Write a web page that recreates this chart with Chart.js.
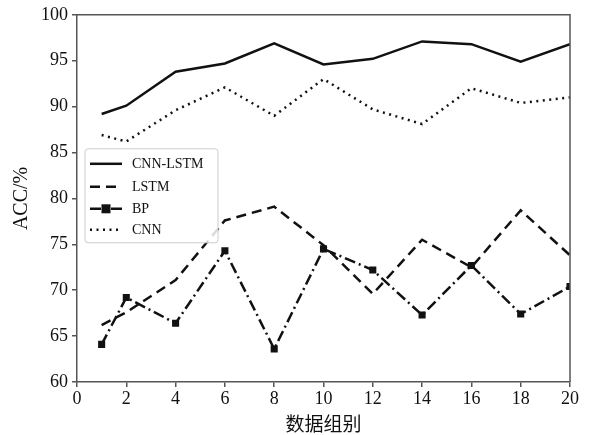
<!DOCTYPE html>
<html>
<head>
<meta charset="utf-8">
<script src="https://cdn.jsdelivr.net/npm/chart.js@4"></script>
<style>
  html, body { margin: 0; padding: 0; background: #fff; }
  #wrap { width: 589px; height: 435px; }
</style>
</head>
<body>
<div id="wrap"><canvas id="acc-chart" width="589" height="435"></canvas></div>
<script>
// ---- data ----------------------------------------------------------------
const GROUPS = [1, 2, 4, 6, 8, 10, 12, 14, 16, 18, 20];
const CNN_LSTM = [89.2, 90.1, 93.8, 94.7, 96.9, 94.6, 95.2, 97.1, 96.8, 94.9, 96.8];
const LSTM = [66.2, 67.6, 71.1, 77.6, 79.1, 74.9, 69.6, 75.5, 72.5, 78.7, 73.8];
const BP = [64.1, 69.2, 66.4, 74.3, 63.6, 74.5, 72.2, 67.3, 72.7, 67.4, 70.4];
const CNN = [86.9, 86.2, 89.6, 92.1, 89.0, 93.0, 89.7, 88.1, 92.0, 90.4, 91.0];
const X_TICKS = [0, 2, 4, 6, 8, 10, 12, 14, 16, 18, 20];
const Y_TICKS = [60, 65, 70, 75, 80, 85, 90, 95, 100];

const INK = '#111';
const AXIS = '#555';
const SERIF = "'Liberation Serif', 'DejaVu Serif', serif";

const toPoints = vals => vals.map((v, i) => ({ x: GROUPS[i], y: v }));

const SERIES = [
    { label: 'CNN-LSTM', data: CNN_LSTM, dash: [] },
    { label: 'LSTM', data: LSTM, dash: [10, 6] },
    { label: 'BP', data: BP, dash: [11, 4, 2, 4], marker: true },
    { label: 'CNN', data: CNN, dash: [2, 4.5] },
];

// frame (top/right edges) + in-plot legend
const framePlugin = {
    id: 'frame',
    afterDraw(chart) {
        const { ctx, chartArea: a } = chart;
        ctx.save();
        ctx.strokeStyle = AXIS;
        ctx.lineWidth = 1.5;
        ctx.beginPath();
        ctx.moveTo(a.left, a.top);
        ctx.lineTo(a.right, a.top);
        ctx.lineTo(a.right, a.bottom);
        ctx.stroke();

        // legend box
        const bx = a.left + 8, by = a.top + 134, bw = 133, bh = 94;
        ctx.fillStyle = 'rgba(255,255,255,0.85)';
        ctx.strokeStyle = '#ccc';
        ctx.lineWidth = 1;
        ctx.beginPath();
        ctx.roundRect(bx, by, bw, bh, 3);
        ctx.fill();
        ctx.stroke();

        const rows = [15, 38, 60, 81];
        ctx.font = '14px ' + SERIF;
        ctx.textBaseline = 'middle';
        SERIES.forEach((s, i) => {
            const y = by + rows[i];
            ctx.strokeStyle = INK;
            ctx.lineWidth = 2.5;
            ctx.setLineDash(s.dash);
            ctx.beginPath();
            ctx.moveTo(bx + 5, y);
            ctx.lineTo(bx + 37, y);
            ctx.stroke();
            ctx.setLineDash([]);
            if (s.marker) {
                ctx.fillStyle = INK;
                ctx.fillRect(bx + 21 - 4.5, y - 4.5, 9, 9);
            }
            ctx.fillStyle = INK;
            ctx.fillText(s.label, bx + 47, y + 1);
        });
        ctx.restore();
    }
};

new Chart(document.getElementById('acc-chart'), {
    type: 'line',
    data: {
        datasets: SERIES.map(s => ({
            label: s.label,
            data: toPoints(s.data),
            borderColor: INK,
            backgroundColor: INK,
            borderWidth: 2.5,
            borderDash: s.dash,
            tension: 0,
            pointStyle: 'rect',
            pointRadius: s.marker ? 5 : 0,
            pointBorderWidth: 0,
        }))
    },
    options: {
        responsive: false,
        animation: false,
        layout: { padding: { top: 14, right: 19, left: 0, bottom: 0 } },
        plugins: { legend: { display: false }, tooltip: { enabled: false } },
        scales: {
            x: {
                type: 'linear',
                min: 0, max: 20,
                afterBuildTicks: ax => { ax.ticks = X_TICKS.map(v => ({ value: v })); },
                afterFit: ax => { ax.height = 53; },
                grid: { drawOnChartArea: false, drawTicks: true, tickLength: 5, color: AXIS, lineWidth: 1.5 },
                border: { display: true, color: AXIS, width: 1.5 },
                ticks: { color: INK, font: { family: SERIF, size: 18 }, padding: 1, maxRotation: 0 },
                title: {
                    display: true, text: '数据组别', color: INK,
                    font: { family: "'Noto Sans CJK SC', sans-serif", size: 19 }, padding: { top: 0, bottom: 0 }
                }
            },
            y: {
                min: 60, max: 100,
                afterBuildTicks: ax => { ax.ticks = Y_TICKS.map(v => ({ value: v })); },
                afterFit: ax => { ax.width = 77; },
                grid: { drawOnChartArea: false, drawTicks: true, tickLength: 5, color: AXIS, lineWidth: 1.5 },
                border: { display: true, color: AXIS, width: 1.5 },
                ticks: { color: INK, font: { family: SERIF, size: 18 }, padding: 4 },
                title: {
                    display: true, text: 'ACC/%', color: INK,
                    font: { family: SERIF, size: 20 }, padding: { top: 10, bottom: 0 }
                }
            }
        }
    },
    plugins: [framePlugin]
});
</script>
</body>
</html>
